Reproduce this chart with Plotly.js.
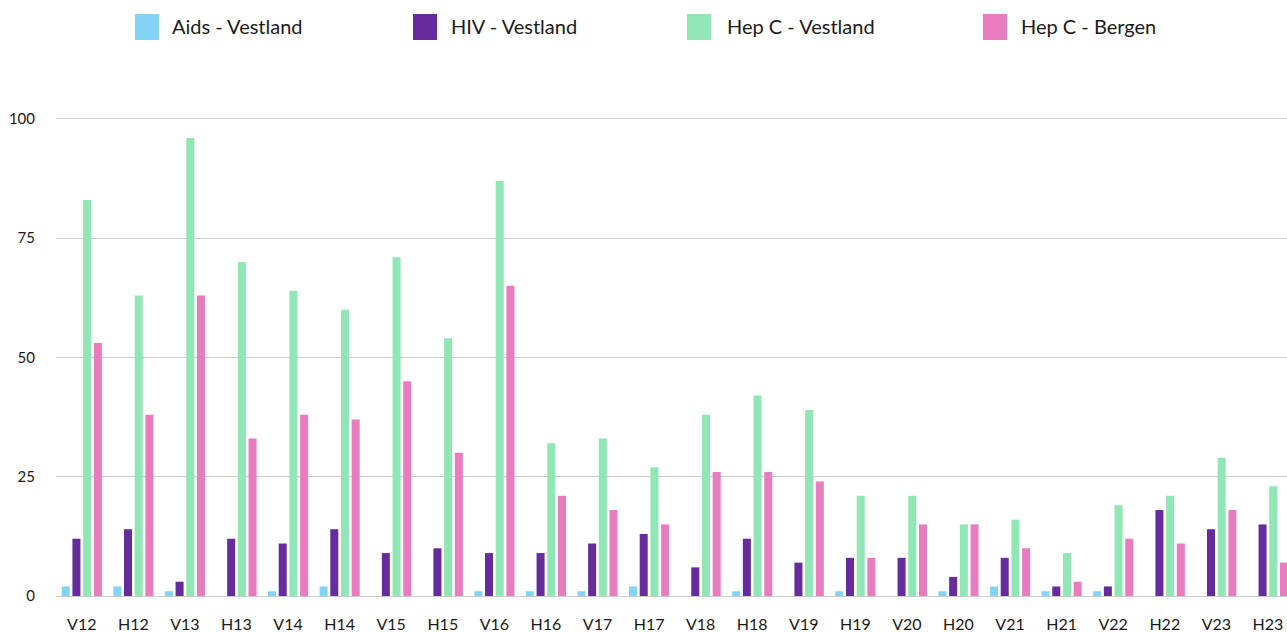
<!DOCTYPE html>
<html>
<head>
<meta charset="utf-8">
<script src="https://cdn.plot.ly/plotly-3.0.1.min.js"></script>
<style>
html,body{margin:0;padding:0;background:#fff;overflow:hidden;}
#chart{width:1287px;height:632px;}
</style>
</head>
<body>
<div id="chart"></div>
<script>
const categories = ["V12","H12","V13","H13","V14","H14","V15","H15","V16","H16","V17","H17","V18","H18","V19","H19","V20","H20","V21","H21","V22","H22","V23","H23"];
const aidsVestland = [2,2,1,0,1,2,0,0,1,1,1,2,0,1,0,1,0,1,2,1,1,0,0,0];
const hivVestland  = [12,14,3,12,11,14,9,10,9,9,11,13,6,12,7,8,8,4,8,2,2,18,14,15];
const hepCVestland = [83,63,96,70,64,60,71,54,87,32,33,27,38,42,39,21,21,15,16,9,19,21,29,23];
const hepCBergen   = [53,38,63,33,38,37,45,30,65,21,18,15,26,26,24,8,15,15,10,3,12,11,18,7];
const seriesNames = ["Aids - Vestland","HIV - Vestland","Hep C - Vestland","Hep C - Bergen"];
const seriesColors = ["#83D3F5","#662C9E","#90E6B4","#E97BBF"];
const seriesValues = [aidsVestland, hivVestland, hepCVestland, hepCBergen];

const traces = seriesValues.map((vals, i) => ({
  type: "bar",
  name: seriesNames[i],
  x: categories,
  y: vals,
  marker: {color: seriesColors[i], line: {width: 0}},
  hoverinfo: "x+y+name"
}));

// custom legend (squares + text) placed like the reference
const W = 1287, H = 632;
const ML = 56, MT = 95, MB = 36;
const PW = W - ML, PH = H - MT - MB;
const px2x = p => (p - ML) / PW;
const px2y = p => (H - MB - p) / PH;
const legendSquareX = [135, 413, 687, 983];
const legendTextX = [170, 449, 725, 1019];
const shapes = [];
const annotations = [];
seriesNames.forEach((n, i) => {
  shapes.push({
    type: "rect", xref: "paper", yref: "paper",
    x0: px2x(legendSquareX[i]), x1: px2x(legendSquareX[i] + 24),
    y0: px2y(40), y1: px2y(14),
    fillcolor: seriesColors[i], line: {width: 0}
  });
  annotations.push({
    xref: "paper", yref: "paper",
    x: px2x(legendTextX[i]), y: px2y(26),
    xanchor: "left", yanchor: "middle",
    text: n, showarrow: false,
    font: {family: "Lato, 'Open Sans', sans-serif", size: 20, color: "#1a1a1a"}
  });
});

const layout = {
  width: W, height: H,
  margin: {l: ML, r: 0, t: MT, b: MB, pad: 0},
  paper_bgcolor: "#ffffff",
  plot_bgcolor: "#ffffff",
  barmode: "group",
  bargap: 0.17,
  bargroupgap: 0.25,
  showlegend: false,
  xaxis: {
    type: "category",
    range: [-0.5, 23.37],
    showgrid: false,
    zeroline: false,
    showline: false,
    ticks: "",
    ticklabelstandoff: 17,
    tickfont: {family: "Lato, 'Open Sans', sans-serif", size: 16, color: "#1a1a1a"},
    fixedrange: true
  },
  yaxis: {
    range: [0, 105],
    tickvals: [0, 25, 50, 75, 100],
    ticktext: ["0", "25", "50", "75", "100"],
    showgrid: true,
    gridcolor: "#cccccc",
    gridwidth: 1,
    zeroline: true,
    zerolinecolor: "#cccccc",
    zerolinewidth: 1,
    showline: false,
    ticks: "",
    ticklabelstandoff: 20,
    tickfont: {family: "Lato, 'Open Sans', sans-serif", size: 15, color: "#1a1a1a"},
    fixedrange: true
  },
  shapes: shapes,
  annotations: annotations
};

Plotly.newPlot("chart", traces, layout, {displayModeBar: false});
</script>
</body>
</html>
